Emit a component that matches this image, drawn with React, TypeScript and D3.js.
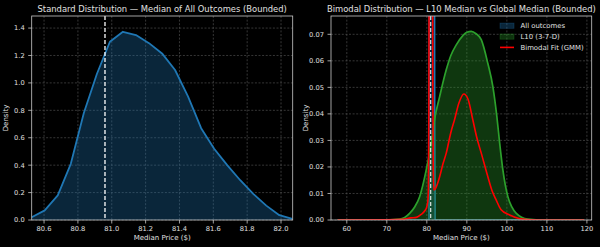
import React from 'react';
import * as d3 from 'd3';

// left panel: median of all outcomes (bounded KDE)
const allPrice = [
  80.527, 80.604, 80.681, 80.758, 80.835, 80.912, 80.989, 81.066, 81.143, 81.22, 81.297,
  81.374, 81.451, 81.528, 81.605, 81.682, 81.759, 81.836, 81.913, 81.99, 82.067,
];
const allDensity = [
  0.02, 0.07, 0.18, 0.41, 0.78, 1.065, 1.3, 1.373, 1.349, 1.29, 1.215,
  1.094, 0.9, 0.67, 0.52, 0.4, 0.29, 0.19, 0.105, 0.035, 0.008,
];
const globalMedian = 80.96;

// right panel series
const gridEnds = [57.7, 119.3];
const l10Price = [
  57.7, 70, 73.2, 75.7, 77, 78.2, 79.85, 81.1, 81.9, 83.2, 84.85, 86, 87.35, 89, 90, 91.1,
  92.3, 93.6, 95.25, 96.5, 97.5, 98.2, 99, 100.25, 101.2, 102.35, 105.25, 108, 119.3,
];
const l10Density = [
  0, 0, 0.0003, 0.0025, 0.005, 0.0088, 0.0189, 0.029, 0.0377, 0.0465, 0.0566, 0.062, 0.066,
  0.0695, 0.0708, 0.0711, 0.0702, 0.068, 0.059, 0.0503, 0.039, 0.029, 0.0189, 0.0088, 0.005,
  0.0025, 0.0003, 0, 0,
];
const gmmPrice = [
  57.7, 70, 74, 76, 77.4, 78.5, 79.5, 80, 80.3, 80.4, 80.5, 80.6, 80.8, 81, 81.2, 81.4, 81.5,
  81.6, 81.75, 82, 82.5, 83.2, 84, 84.85, 86, 86.9, 88, 89.25, 90.3, 91.5, 92.5, 93.6, 95.25,
  96.3, 97.35, 98.5, 100.7, 103, 106, 110, 119.3,
];
const gmmDensity = [
  0, 0.0001, 0.0003, 0.0008, 0.001, 0.002, 0.0035, 0.005, 0.008, 0.012, 0.04, 0.12, 0.45, 0.6,
  0.45, 0.12, 0.05, 0.02, 0.0113, 0.0115, 0.013, 0.0163, 0.021, 0.0252, 0.033, 0.0377, 0.044,
  0.0475, 0.0455, 0.0377, 0.031, 0.0252, 0.0163, 0.011, 0.0075, 0.004, 0.0019, 0.0006, 0.0001,
  0, 0,
];

const leftXTicks = [80.6, 80.8, 81.0, 81.2, 81.4, 81.6, 81.8, 82.0];
const leftYTicks = [0, 0.2, 0.4, 0.6, 0.8, 1.0, 1.2, 1.4];
const rightXTicks = [60, 70, 80, 90, 100, 110, 120];
const rightYTicks = [0, 0.01, 0.02, 0.03, 0.04, 0.05, 0.06, 0.07];
const legendItems = ['All outcomes', 'L10 (3-7-D)', 'Bimodal Fit (GMM)'];

const FONT = 'DejaVu Sans, Verdana, sans-serif';
const BLUE = '#1f77b4';
const GREEN = '#2ca02c';
const RED = '#ff0000';
const SPINE = '#c8c8c8';
const TXT = '#e0e0e0';
const GRID = '#5a5a5a';

type Pt = [number, number];
const zip = (xs: number[], ys: number[]): Pt[] => xs.map((x, i) => [x, ys[i]]);

interface PanelProps {
  id: string;
  x0: number;
  x1: number;
  y0: number;
  y1: number;
  xs: d3.ScaleLinear<number, number>;
  ys: d3.ScaleLinear<number, number>;
  xTicks: number[];
  yTicks: number[];
  xFmt: (v: number) => string;
  yFmt: (v: number) => string;
  title: string;
  children?: React.ReactNode;
}

const Panel: React.FC<PanelProps> = (p) => {
  const cx = (p.x0 + p.x1) / 2;
  const cy = (p.y0 + p.y1) / 2;
  return (
    <g>
      <clipPath id={p.id}>
        <rect x={p.x0} y={p.y0} width={p.x1 - p.x0} height={p.y1 - p.y0} />
      </clipPath>
      {p.xTicks.map((t) => (
        <line key={'gx' + t} x1={p.xs(t)} x2={p.xs(t)} y1={p.y0} y2={p.y1}
          stroke={GRID} strokeWidth={0.6} strokeDasharray="2,1.6" />
      ))}
      {p.yTicks.map((t) => (
        <line key={'gy' + t} x1={p.x0} x2={p.x1} y1={p.ys(t)} y2={p.ys(t)}
          stroke={GRID} strokeWidth={0.6} strokeDasharray="2,1.6" />
      ))}
      <g clipPath={`url(#${p.id})`}>{p.children}</g>
      <rect x={p.x0} y={p.y0} width={p.x1 - p.x0} height={p.y1 - p.y0}
        fill="none" stroke={SPINE} strokeWidth={0.8} />
      {p.xTicks.map((t) => (
        <g key={'tx' + t}>
          <line x1={p.xs(t)} x2={p.xs(t)} y1={p.y1} y2={p.y1 + 3.5} stroke={SPINE} strokeWidth={0.8} />
          <text x={p.xs(t)} y={p.y1 + 10.5} textAnchor="middle" fontSize={6.7} fill={TXT} fontFamily={FONT}>
            {p.xFmt(t)}
          </text>
        </g>
      ))}
      {p.yTicks.map((t) => (
        <g key={'ty' + t}>
          <line x1={p.x0 - 3.5} x2={p.x0} y1={p.ys(t)} y2={p.ys(t)} stroke={SPINE} strokeWidth={0.8} />
          <text x={p.x0 - 7} y={p.ys(t) + 2.4} textAnchor="end" fontSize={6.7} fill={TXT} fontFamily={FONT}>
            {p.yFmt(t)}
          </text>
        </g>
      ))}
      <text x={cx} y={12} textAnchor="middle" fontSize={8.4} fill={TXT} fontFamily={FONT}>
        {p.title}
      </text>
      <text x={cx} y={239.5} textAnchor="middle" fontSize={7} fill={TXT} fontFamily={FONT}>
        Median Price ($)
      </text>
      <text transform={`translate(${p.x0 - 23.5},${cy}) rotate(-90)`} textAnchor="middle"
        fontSize={7} fill={TXT} fontFamily={FONT}>
        Density
      </text>
    </g>
  );
};

const App: React.FC = () => {
  const L = { x0: 31.7, x1: 292.7, y0: 16, y1: 220 };
  const R = { x0: 331, x1: 591.7, y0: 16, y1: 220 };

  const lx = d3.scaleLinear().domain([80.527, 82.069]).range([L.x0, L.x1]);
  const ly = d3.scaleLinear().domain([0, 1.488]).range([L.y1, L.y0]);
  const rx = d3.scaleLinear().domain([56.05, 121.2]).range([R.x0, R.x1]);
  const ry = d3.scaleLinear().domain([0, 0.0769]).range([R.y1, R.y0]);

  const leftPts = zip(allPrice, allDensity);
  const lLine = d3.line<Pt>().x((d) => lx(d[0])).y((d) => ly(d[1]));
  const lArea = d3.area<Pt>().x((d) => lx(d[0])).y0(ly(0)).y1((d) => ly(d[1]));

  // all outcomes on the wide grid: zero outside the bounded support
  const rightAll: Pt[] = [
    [gridEnds[0], 0],
    [allPrice[0], 0],
    ...leftPts,
    [allPrice[allPrice.length - 1], 0],
    [gridEnds[1], 0],
  ];
  const l10Pts = zip(l10Price, l10Density);
  const gmmPts = zip(gmmPrice, gmmDensity);

  const rLine = d3.line<Pt>().x((d) => rx(d[0])).y((d) => ry(d[1]));
  const rSmooth = d3.line<Pt>().x((d) => rx(d[0])).y((d) => ry(d[1])).curve(d3.curveMonotoneX);
  const rArea = d3.area<Pt>().x((d) => rx(d[0])).y0(ry(0)).y1((d) => ry(d[1]));
  const rSmoothArea = d3.area<Pt>().x((d) => rx(d[0])).y0(ry(0)).y1((d) => ry(d[1])).curve(d3.curveMonotoneX);

  const legX = 500;
  const legY = [25.7, 36.6, 47.4];

  return (
    <svg width={600} height={247}
      style={{ position: 'absolute', left: 0, top: 0, display: 'block', background: '#000' }}>
      <rect width={600} height={247} fill="#000" />
      <Panel id="clipL" {...L} xs={lx} ys={ly} xTicks={leftXTicks} yTicks={leftYTicks}
        xFmt={d3.format('.1f')} yFmt={d3.format('.1f')}
        title="Standard Distribution — Median of All Outcomes (Bounded)">
        <path d={lArea(leftPts) || ''} fill={BLUE} fillOpacity={0.32} />
        <path d={lLine(leftPts) || ''} fill="none" stroke={BLUE} strokeWidth={1.8} strokeLinejoin="round" />
        <line x1={lx(globalMedian)} x2={lx(globalMedian)} y1={L.y0} y2={L.y1}
          stroke="#fff" strokeWidth={1.3} strokeDasharray="4,2" />
      </Panel>
      <Panel id="clipR" {...R} xs={rx} ys={ry} xTicks={rightXTicks} yTicks={rightYTicks}
        xFmt={d3.format('d')} yFmt={d3.format('.2f')}
        title="Bimodal Distribution — L10 Median vs Global Median (Bounded)">
        <path d={rArea(rightAll) || ''} fill={BLUE} fillOpacity={0.32} />
        <path d={rLine(rightAll) || ''} fill="none" stroke={BLUE} strokeWidth={1.5} />
        <path d={rSmoothArea(l10Pts) || ''} fill={GREEN} fillOpacity={0.34} />
        <path d={rSmooth(l10Pts) || ''} fill="none" stroke={GREEN} strokeWidth={1.7} />
        <path d={rSmooth(gmmPts) || ''} fill="none" stroke={RED} strokeWidth={1.6} />
        <line x1={rx(globalMedian)} x2={rx(globalMedian)} y1={R.y0} y2={R.y1}
          stroke="#fff" strokeWidth={1.2} strokeDasharray="4,2" opacity={0.85} />
      </Panel>
      {legendItems.map((name, i) => (
        <g key={name}>
          {i === 2 ? (
            <line x1={legX} x2={legX + 14} y1={legY[i]} y2={legY[i]} stroke={RED} strokeWidth={1.6} />
          ) : (
            <rect x={legX} y={legY[i] - 2.6} width={14} height={5.2}
              fill={i === 0 ? BLUE : GREEN} fillOpacity={0.32}
              stroke={i === 0 ? BLUE : GREEN} strokeOpacity={0.32} strokeWidth={0.8} />
          )}
          <text x={legX + 20.5} y={legY[i] + 2.5} fontSize={6.9} fill={TXT} fontFamily={FONT}>
            {name}
          </text>
        </g>
      ))}
    </svg>
  );
};

export default App;
